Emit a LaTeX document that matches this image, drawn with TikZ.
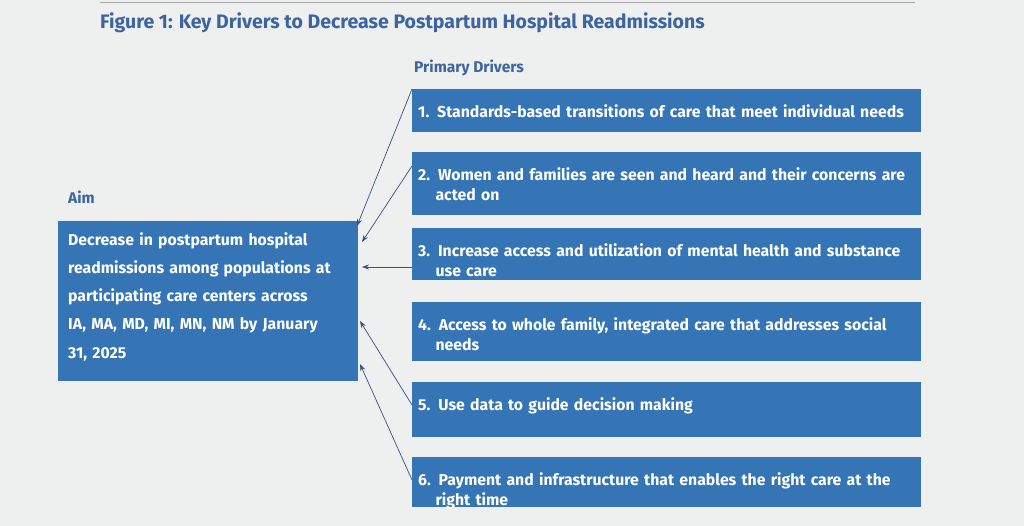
\documentclass[tikz,border=0pt]{standalone}
\usepackage{fontspec}
\usetikzlibrary{arrows.meta}
\setmainfont{Fira Sans}
\definecolor{bg}{HTML}{EEF0EF}
\definecolor{bx}{HTML}{3574B5}
\definecolor{tt}{HTML}{3D64A0}
\definecolor{ar}{HTML}{3A4E8C}
\tikzset{drv/.style={fill=bx,text=white,anchor=north west,inner sep=0pt},
 lbl/.style={anchor=west,text=tt,font=\fontsize{15.5}{17}\selectfont\bfseries},
 arr/.style={draw=ar,line width=0.7pt,-{Stealth[length=7pt,width=5pt]}}}
\begin{document}
\begin{tikzpicture}[x=1pt,y=-1pt]
\fill[bg] (0,0) rectangle (1024,526);
\useasboundingbox (0,0) rectangle (1024,526);
\draw[gray!70,line width=0.6pt] (100,2)--(915,2);
\node[anchor=west,text=tt,font=\fontsize{19.5}{22}\selectfont\bfseries,inner sep=0pt] (t) at (100,23) {Figure 1: Key Drivers to Decrease Postpartum Hospital Readmissions};
\node[lbl,inner sep=0pt] (pd) at (414,68) {Primary Drivers};
\node[lbl,inner sep=0pt] (al) at (68,197) {Aim};
\newcommand{\drvbox}[4]{%
 \node[drv,minimum width=509pt,minimum height=#3pt] (#1) at (412,#2) {};
 \node[anchor=north west,text=white,text width=500pt,align=left,font=\fontsize{15.8}{20}\selectfont\bfseries,inner sep=0pt] at (418,#2+15) {#4};}
\drvbox{d1}{89}{43}{1. Standards-based transitions of care that meet individual needs}
\drvbox{d2}{152}{63}{2. Women and families are seen and heard and their concerns are\\\hspace*{1.1em}acted on}
\drvbox{d3}{228}{52}{3. Increase access and utilization of mental health and substance\\\hspace*{1.1em}use care}
\drvbox{d4}{302}{59}{4. Access to whole family, integrated care that addresses social\\\hspace*{1.1em}needs}
\drvbox{d5}{382}{55}{5. Use data to guide decision making}
\drvbox{d6}{457}{50}{6. Payment and infrastructure that enables the right care at the\\\hspace*{1.1em}right time}
\node[drv,minimum width=300pt,minimum height=160pt] (aim) at (58,221) {};
\node[anchor=north west,text=white,text width=290pt,align=left,font=\fontsize{15.8}{28.3}\selectfont\bfseries,inner sep=0pt] (aimt) at (68,232) {Decrease in postpartum hospital\\readmissions among populations at\\participating care centers across\\IA, MA, MD, MI, MN, NM by January\\31, 2025};
\coordinate (a1) at (357,226); \coordinate (a2) at (362,242); \coordinate (a3) at (362,267);
\coordinate (a5) at (360,321); \coordinate (a6) at (360,364);
\draw[arr] (d1.north west) -- (a1);
\draw[arr] ([yshift=-14pt]d2.north west) -- (a2);
\draw[arr] ([yshift=-39pt]d3.north west) -- (a3);
\draw[arr] ([yshift=-23pt]d5.north west) -- (a5);
\draw[arr] ([yshift=-23pt]d6.north west) -- (a6);
\end{tikzpicture}
\end{document}
